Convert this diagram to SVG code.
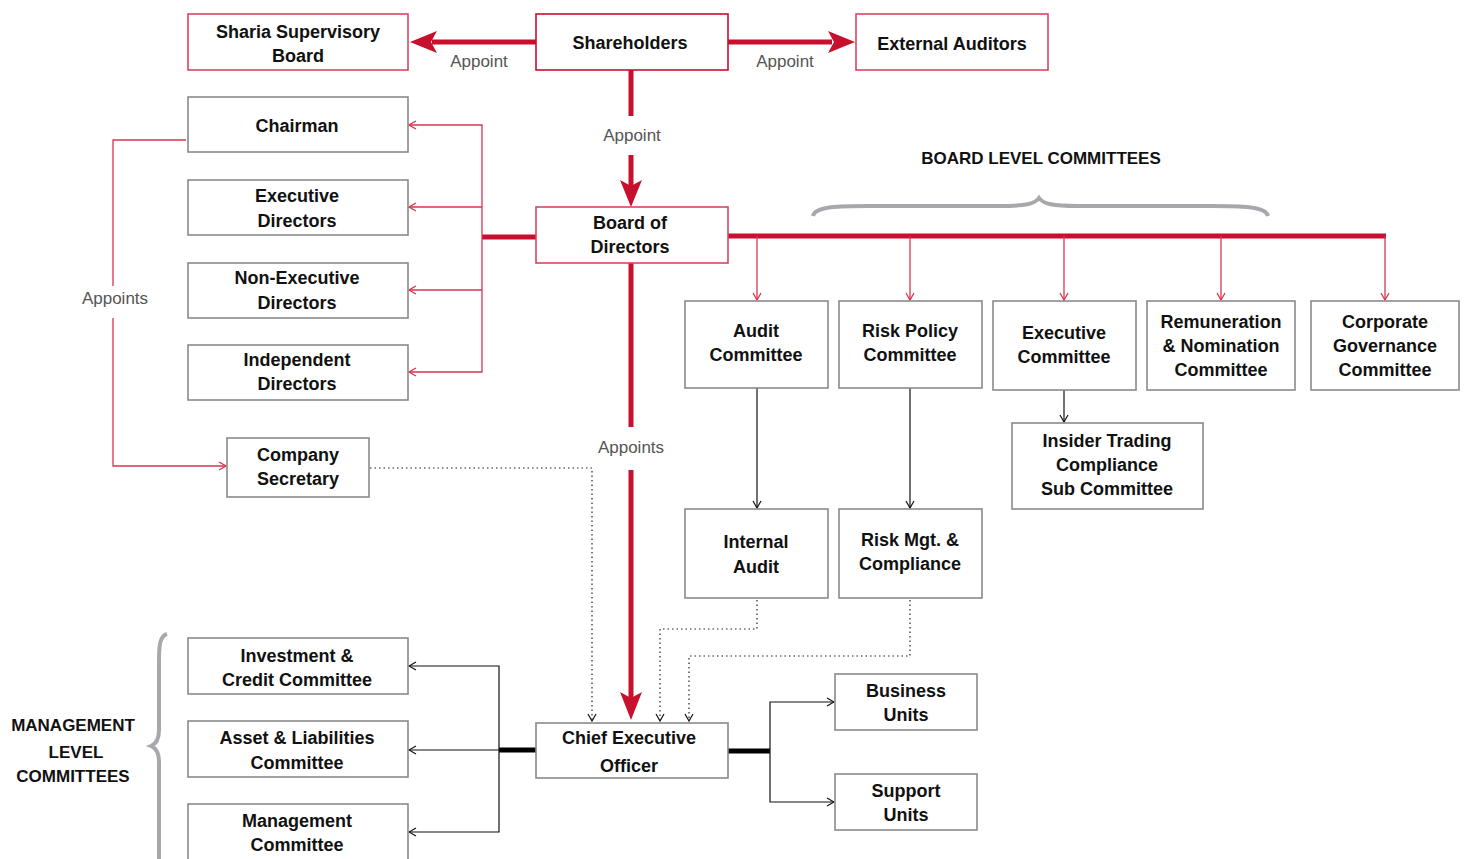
<svg xmlns="http://www.w3.org/2000/svg" width="1466" height="859" viewBox="0 0 1466 859">
<style>
.box{fill:#fff;stroke:#8a8a8a;stroke-width:1.6}
.rbox{fill:#fff;stroke:#d6465e;stroke-width:1.6}
.t{font-family:"Liberation Sans",Arial,sans-serif;font-size:18px;font-weight:bold;fill:#111;text-anchor:middle}
.c{font-family:"Liberation Sans",Arial,sans-serif;font-size:18px;font-weight:bold;fill:#111;text-anchor:middle}
.lbl{font-family:"Liberation Sans",Arial,sans-serif;font-size:17px;fill:#555;text-anchor:middle}
.thick{stroke:#c8102e;stroke-width:5;fill:none}
.thin{stroke:#d6364f;stroke-width:1.3;fill:none}
.blk{stroke:#111;stroke-width:1.2;fill:none}
.bthick{stroke:#000;stroke-width:5;fill:none}
.dot{stroke:#222;stroke-width:1.2;fill:none;stroke-dasharray:1.5 3}
.head{fill:#c8102e}
.brace{stroke:#a7a8ab;stroke-width:4;fill:none}
</style>
<defs>
<marker id="or" viewBox="0 0 10 10" refX="9" refY="5" markerWidth="10" markerHeight="10" markerUnits="userSpaceOnUse" orient="auto-start-reverse"><path d="M2,1 L9,5 L2,9" fill="none" stroke="#d6364f" stroke-width="1.3"/></marker>
<marker id="ob" viewBox="0 0 10 10" refX="9" refY="5" markerWidth="10" markerHeight="10" markerUnits="userSpaceOnUse" orient="auto-start-reverse"><path d="M2,1 L9,5 L2,9" fill="none" stroke="#111" stroke-width="1.2"/></marker>
</defs>

<g id="connectors">
<line class="thick" x1="536" y1="42" x2="432" y2="42"/>
<path class="head" d="M410,42 L437,31 L431,42 L437,53 Z"/>
<line class="thick" x1="728" y1="42" x2="832" y2="42"/>
<path class="head" d="M855,42 L828,31 L834,42 L828,53 Z"/>
<line class="thick" x1="631" y1="70" x2="631" y2="116"/>
<line class="thick" x1="631" y1="155" x2="631" y2="186"/>
<path class="head" d="M631,207 L620,180 L631,186 L642,180 Z"/>
<line class="thick" x1="482" y1="237" x2="536" y2="237"/>
<polyline class="thin" points="409,125 482,125 482,372 409,372" marker-start="url(#or)" marker-end="url(#or)"/>
<line class="thin" x1="482" y1="207" x2="409" y2="207" marker-end="url(#or)"/>
<line class="thin" x1="482" y1="290" x2="409" y2="290" marker-end="url(#or)"/>
<polyline class="thin" points="186,140 113,140 113,286"/>
<polyline class="thin" points="113,318 113,466 226,466" marker-end="url(#or)"/>
<line class="thick" x1="728" y1="236" x2="1386" y2="236"/>
<line class="thin" x1="757" y1="236" x2="757" y2="300" marker-end="url(#or)"/>
<line class="thin" x1="910" y1="236" x2="910" y2="300" marker-end="url(#or)"/>
<line class="thin" x1="1064" y1="236" x2="1064" y2="300" marker-end="url(#or)"/>
<line class="thin" x1="1221" y1="236" x2="1221" y2="300" marker-end="url(#or)"/>
<line class="thin" x1="1385" y1="236" x2="1385" y2="300" marker-end="url(#or)"/>
<line class="blk" x1="757" y1="388" x2="757" y2="508" marker-end="url(#ob)"/>
<line class="blk" x1="910" y1="388" x2="910" y2="508" marker-end="url(#ob)"/>
<line class="blk" x1="1064" y1="390" x2="1064" y2="422" marker-end="url(#ob)"/>
<line class="thick" x1="631" y1="263" x2="631" y2="427"/>
<line class="thick" x1="631" y1="470" x2="631" y2="698"/>
<path class="head" d="M631,720 L620,692 L631,698 L642,692 Z"/>
<polyline class="dot" points="370,468 592,468 592,721" marker-end="url(#ob)"/>
<polyline class="dot" points="757,600 757,629 660,629 660,721" marker-end="url(#ob)"/>
<polyline class="dot" points="910,600 910,656 689,656 689,721" marker-end="url(#ob)"/>
<line class="bthick" x1="499" y1="750" x2="536" y2="750"/>
<polyline class="blk" points="409,666 499,666 499,832 409,832" marker-start="url(#ob)" marker-end="url(#ob)"/>
<line class="blk" x1="499" y1="750" x2="409" y2="750" marker-end="url(#ob)"/>
<line class="bthick" x1="728" y1="751" x2="770" y2="751"/>
<polyline class="blk" points="834,702 770,702 770,802 834,802" marker-start="url(#ob)" marker-end="url(#ob)"/>
</g>

<g id="labels">
<text class="lbl" x="479" y="67">Appoint</text>
<text class="lbl" x="785" y="67">Appoint</text>
<text class="lbl" x="632" y="141">Appoint</text>
<text class="lbl" x="115" y="304">Appoints</text>
<text class="lbl" x="631" y="453">Appoints</text>
</g>

<g id="board-level-brace">
<text class="t" x="1041" y="164" style="font-size:17px">BOARD LEVEL COMMITTEES</text>
<path class="brace" d="M813,216 C815,206 840,206 870,206 L1000,206 C1025,206 1035,204 1039,198 C1043,204 1053,206 1078,206 L1210,206 C1240,206 1266,206 1268,216"/>
</g>

<g id="management-level-brace">
<text class="t" x="73" y="731" style="font-size:17px">MANAGEMENT</text>
<text class="t" x="76" y="758" style="font-size:17px">LEVEL</text>
<text class="t" x="73" y="782" style="font-size:17px">COMMITTEES</text>
<path class="brace" d="M167,634 C160,636 159,645 159,660 L159,730 C159,740 156,744 151,746 C156,748 159,752 159,762 L159,859"/>
</g>

<g id="sharia"><rect class="rbox" x="188" y="14" width="220" height="56"/><text class="t" x="298" y="38">Sharia Supervisory</text><text class="t" x="298" y="62">Board</text></g>
<g id="shareholders"><rect class="rbox" x="536" y="14" width="192" height="56" style="stroke:#c8102e"/><text class="t" x="630" y="49">Shareholders</text></g>
<g id="auditors"><rect class="rbox" x="856" y="14" width="192" height="56"/><text class="t" x="952" y="50">External Auditors</text></g>

<g id="chairman"><rect class="box" x="188" y="97" width="220" height="55"/><text class="t" x="297" y="132">Chairman</text></g>
<g id="exec-directors"><rect class="box" x="188" y="180" width="220" height="55"/><text class="t" x="297" y="202">Executive</text><text class="t" x="297" y="227">Directors</text></g>
<g id="nonexec-directors"><rect class="box" x="188" y="263" width="220" height="55"/><text class="t" x="297" y="284">Non-Executive</text><text class="t" x="297" y="309">Directors</text></g>
<g id="indep-directors"><rect class="box" x="188" y="345" width="220" height="55"/><text class="t" x="297" y="366">Independent</text><text class="t" x="297" y="390">Directors</text></g>
<g id="company-secretary"><rect class="box" x="227" y="438" width="142" height="59"/><text class="t" x="298" y="461">Company</text><text class="t" x="298" y="485">Secretary</text></g>

<g id="board"><rect class="rbox" x="536" y="207" width="192" height="56"/><text class="t" x="630" y="229">Board of</text><text class="t" x="630" y="253">Directors</text></g>

<g id="audit-committee"><rect class="box" x="685" y="301" width="143" height="87"/><text class="c" x="756" y="337">Audit</text><text class="c" x="756" y="361">Committee</text></g>
<g id="risk-policy"><rect class="box" x="839" y="301" width="143" height="87"/><text class="c" x="910" y="337">Risk Policy</text><text class="c" x="910" y="361">Committee</text></g>
<g id="exec-committee"><rect class="box" x="993" y="301" width="143" height="89"/><text class="c" x="1064" y="339">Executive</text><text class="c" x="1064" y="363">Committee</text></g>
<g id="remuneration"><rect class="box" x="1147" y="301" width="148" height="89"/><text class="c" x="1221" y="328">Remuneration</text><text class="c" x="1221" y="352">&amp; Nomination</text><text class="c" x="1221" y="376">Committee</text></g>
<g id="governance"><rect class="box" x="1311" y="301" width="148" height="89"/><text class="c" x="1385" y="328">Corporate</text><text class="c" x="1385" y="352">Governance</text><text class="c" x="1385" y="376">Committee</text></g>
<g id="insider"><rect class="box" x="1012" y="423" width="191" height="86"/><text class="c" x="1107" y="447">Insider Trading</text><text class="c" x="1107" y="471">Compliance</text><text class="c" x="1107" y="495">Sub Committee</text></g>

<g id="internal-audit"><rect class="box" x="685" y="509" width="143" height="89"/><text class="c" x="756" y="548">Internal</text><text class="c" x="756" y="573">Audit</text></g>
<g id="risk-mgt"><rect class="box" x="839" y="509" width="143" height="89"/><text class="c" x="910" y="546">Risk Mgt. &amp;</text><text class="c" x="910" y="570">Compliance</text></g>

<g id="ceo"><rect class="box" x="536" y="723" width="192" height="55"/><text class="t" x="629" y="744">Chief Executive</text><text class="t" x="629" y="772">Officer</text></g>
<g id="business-units"><rect class="box" x="835" y="674" width="142" height="56"/><text class="t" x="906" y="697">Business</text><text class="t" x="906" y="721">Units</text></g>
<g id="support-units"><rect class="box" x="835" y="774" width="142" height="56"/><text class="t" x="906" y="797">Support</text><text class="t" x="906" y="821">Units</text></g>

<g id="investment-credit"><rect class="box" x="188" y="638" width="220" height="56"/><text class="t" x="297" y="662">Investment &amp;</text><text class="t" x="297" y="686">Credit Committee</text></g>
<g id="alco"><rect class="box" x="188" y="721" width="220" height="56"/><text class="t" x="297" y="744">Asset &amp; Liabilities</text><text class="t" x="297" y="769">Committee</text></g>
<g id="management-committee"><rect class="box" x="188" y="804" width="220" height="60"/><text class="t" x="297" y="827">Management</text><text class="t" x="297" y="851">Committee</text></g>
</svg>
